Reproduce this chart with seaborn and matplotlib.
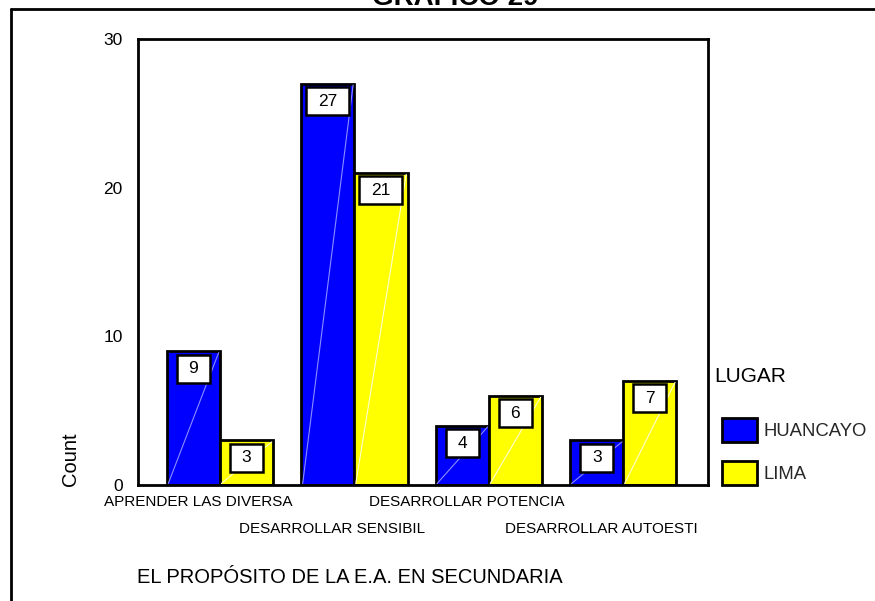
import matplotlib
matplotlib.use("Agg")
import matplotlib.pyplot as plt
from matplotlib.patches import Patch
from matplotlib.lines import Line2D
from matplotlib.transforms import ScaledTranslation
import seaborn as sns
import pandas as pd

categories = ["APRENDER LAS DIVERSA", "DESARROLLAR SENSIBIL",
              "DESARROLLAR POTENCIA", "DESARROLLAR AUTOESTI"]
huancayo = [9, 27, 4, 3]
lima = [3, 21, 6, 7]
groups = ["HUANCAYO", "LIMA"]
colors = ["#0000FF", "#FFFF00"]
stripe_colors = ["#8C8CFF", "#FFFFD0"]
yticks = [0, 10, 20, 30]

df = pd.DataFrame({
    "cat": categories * 2,
    "LUGAR": [groups[0]] * 4 + [groups[1]] * 4,
    "count": huancayo + lima,
})

sns.set_theme(style="white")
plt.rcParams["font.family"] = ["Liberation Sans", "DejaVu Sans"]

W, H = 875, 601
fig = plt.figure(figsize=(W / 100, H / 100), dpi=100)
L, R, T, B = 138, 708, 39, 485
ax = fig.add_axes([L / W, 1 - B / H, (R - L) / W, (B - T) / H])

sns.barplot(data=df, x="cat", y="count", hue="LUGAR", order=categories,
            hue_order=groups, palette=colors, saturation=1, width=0.79,
            edgecolor="black", linewidth=2, legend=False, ax=ax)

ax.set_xlim(-0.61, 3.63)
ax.set_ylim(0, 30)
ax.set_yticks(yticks)
ax.set_yticklabels([str(v) for v in yticks])
for s in ax.spines.values():
    s.set_color("black")
    s.set_linewidth(2)

ax.tick_params(axis="both", direction="out", length=5, width=3, color="black",
               labelsize=11, labelcolor="black")
ax.tick_params(axis="y", pad=6, labelsize=12.5)

# staggered x tick labels, shifted slightly left
for i, tick in enumerate(ax.xaxis.get_major_ticks()):
    tick.set_pad(2.2 if i % 2 == 0 else 21.6)
for lab in ax.get_xticklabels():
    lab.set_transform(lab.get_transform() + ScaledTranslation(-22 / 100, 0, fig.dpi_scale_trans))

# faint diagonal stripe in each bar and value boxes
for cont, sc in zip(ax.containers, stripe_colors):
    for bar in cont:
        h = bar.get_height()
        x0 = bar.get_x()
        w = bar.get_width()
        ax.plot([x0 + 0.01, x0 + w - 0.01], [0.1, h - 0.1], color=sc, lw=0.8, zorder=3)
        ax.annotate(f"{int(h)}", xy=(x0 + w / 2, h), xytext=(0, -17.5),
                    textcoords="offset pixels", ha="center", va="center",
                    fontsize=12.5, color="black", zorder=5,
                    bbox=dict(boxstyle="square,pad=0.68", fc="white", ec="black",
                              lw=1.8, mutation_aspect=0.55))

# axis labels
ax.set_ylabel("Count", fontsize=14.5, color="black")
ax.yaxis.set_label_coords((80 - L) / (R - L), (B - 459) / (B - T))
ax.set_xlabel("EL PROPÓSITO DE LA E.A. EN SECUNDARIA", fontsize=14.5, color="black")
ax.xaxis.label.set_horizontalalignment("left")
ax.xaxis.set_label_coords((137 - L) / (R - L), (B - 568) / (B - T))

# legend
fig.text(714 / W, 1 - 377 / H, "LUGAR", ha="left", va="center", fontsize=15, color="black")
handles = [Patch(facecolor=c, edgecolor="black", linewidth=2) for c in colors]
leg = fig.legend(handles, groups, loc="upper left",
                 bbox_to_anchor=(722 / W, 1 - 418 / H), frameon=False,
                 fontsize=13.3, handlelength=1.9,
                 handleheight=1.59, handletextpad=0.33, labelspacing=1.06,
                 borderpad=0, borderaxespad=0)

# clipped title and outer frame
fig.text(455 / W, 1 - 5 / H, "GRÁFICO 29", ha="center", va="baseline",
         fontsize=20, fontweight="bold", color="black")
fig.add_artist(Line2D([11 / W, 1], [1 - 9 / H, 1 - 9 / H], transform=fig.transFigure,
                      color="black", lw=2))
fig.add_artist(Line2D([11 / W, 11 / W], [0, 1 - 9 / H], transform=fig.transFigure,
                      color="black", lw=2))

fig.savefig("out.png", dpi=100)
